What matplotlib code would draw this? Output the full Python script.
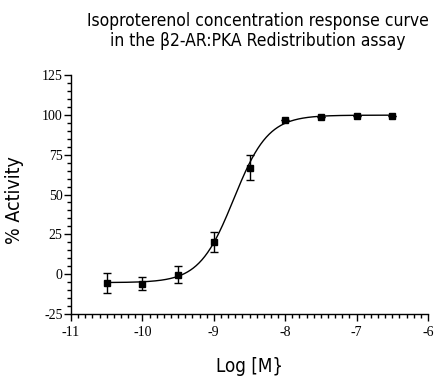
import numpy as np
import matplotlib
matplotlib.use("Agg")
import matplotlib.pyplot as plt
from matplotlib.ticker import MultipleLocator

plt.rcParams["axes.unicode_minus"] = False

# Data
log_conc = [-10.5, -10.0, -9.5, -9.0, -8.5, -8.0, -7.5, -7.0, -6.5]
activity = [-5.8, -6.0, -0.4, 19.9, 66.7, 96.5, 98.5, 99.0, 99.2]
sem = [6.3, 4.0, 5.3, 6.3, 7.8, 0, 0, 0, 0]

# Fitted sigmoidal curve parameters (4PL)
fit_bottom = -5.3
fit_top = 99.8
fit_logec50 = -8.72
fit_hill = 1.8

x_ticks = [-11, -10, -9, -8, -7, -6]
y_ticks = [-25, 0, 25, 50, 75, 100, 125]

title = "Isoproterenol concentration response curve\nin the \u03b22-AR:PKA Redistribution assay"
xlabel = "Log [M}"
ylabel = "% Activity"

fig = plt.figure(figsize=(4.34, 3.82), dpi=100)
ax = fig.add_axes([71/434, 1-314/382, (428-71)/434, (314-75)/382])

xs = np.linspace(min(log_conc), max(log_conc), 400)
ys = fit_bottom + (fit_top - fit_bottom) / (1 + 10 ** ((fit_logec50 - xs) * fit_hill))
ax.plot(xs, ys, color="black", lw=1.0)
ax.errorbar(log_conc, activity, yerr=sem, fmt="s", color="black", ms=4,
            elinewidth=1.0, capsize=3, capthick=1.0, ecolor="black")

ax.set_xlim(-11, -6)
ax.set_ylim(-25, 125)
ax.set_xticks(x_ticks)
ax.set_yticks(y_ticks)
ax.xaxis.set_minor_locator(MultipleLocator(0.1))
ax.yaxis.set_minor_locator(MultipleLocator(5))
ax.spines["top"].set_visible(False)
ax.spines["right"].set_visible(False)
for s in ("left", "bottom"):
    ax.spines[s].set_linewidth(1.0)
ax.tick_params(which="major", direction="out", length=5, width=1.0)
ax.tick_params(which="minor", direction="out", length=3, width=1.0)
ax.tick_params(axis="x", pad=4)
ax.tick_params(axis="y", pad=1)
for lab in ax.get_xticklabels() + ax.get_yticklabels():
    lab.set_fontfamily("Liberation Serif")
    lab.set_fontsize(10)

sans = ["Liberation Sans Narrow", "DejaVu Sans"]
fig.text(258/434, 1-31/382, title, ha="center", va="center", fontsize=12.5,
         family=sans, fontstretch="condensed", linespacing=1.2)
fig.text(250/434, 1-366/382, xlabel, ha="center", va="center", fontsize=13.5,
         family=sans, fontstretch="condensed")
fig.text(15/434, 1-200/382, ylabel, ha="center", va="center", fontsize=14,
         rotation=90, family=sans, fontstretch="condensed")

fig.savefig("out.png", dpi=100)
